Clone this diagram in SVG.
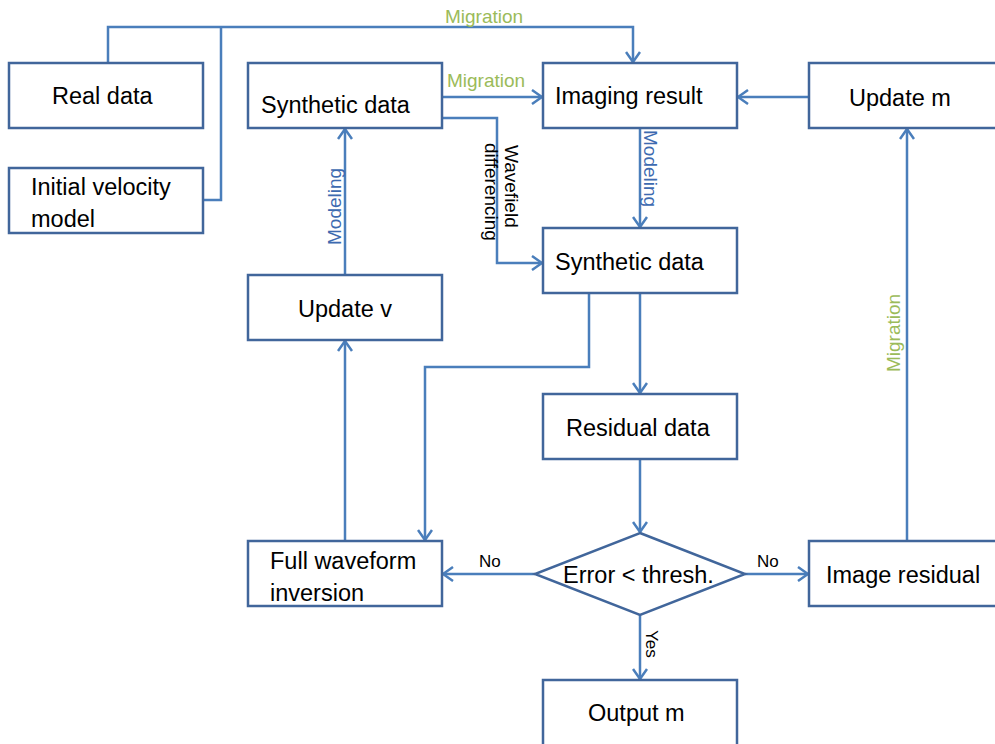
<svg xmlns="http://www.w3.org/2000/svg" width="995" height="744" viewBox="0 0 995 744">
<style>
.box{fill:#fff;stroke:#41669b;stroke-width:2.5}
.t{font-family:"Liberation Sans",Arial,sans-serif;font-size:23.5px;fill:#000}
.c{fill:none;stroke:#4a7ebb;stroke-width:2.5}
.g{font-family:"Liberation Sans",Arial,sans-serif;font-size:19px;fill:#9bbb59}
.b{font-family:"Liberation Sans",Arial,sans-serif;font-size:19px;fill:#3d6ab0}
.k{font-family:"Liberation Sans",Arial,sans-serif;font-size:19px;fill:#000}
.s{font-family:"Liberation Sans",Arial,sans-serif;font-size:17px;fill:#000}
</style>
<defs>
<marker id="a" viewBox="0 0 12 16" refX="11" refY="8" markerWidth="12" markerHeight="16" markerUnits="userSpaceOnUse" orient="auto">
<path d="M1,1 L11,8 L1,15" fill="none" stroke="#4a7ebb" stroke-width="2.5"/>
</marker>
</defs>
<rect width="995" height="744" fill="#fff"/>
<g id="connectors">
<path class="c" d="M108,63 V27 H633 V62" marker-end="url(#a)"/>
<path class="c" d="M203,200 H221 V27"/>
<path class="c" d="M442,97 H542" marker-end="url(#a)"/>
<path class="c" d="M442,118 H497 V263 H542" marker-end="url(#a)"/>
<path class="c" d="M809,97 H738" marker-end="url(#a)"/>
<path class="c" d="M640,128 V227" marker-end="url(#a)"/>
<path class="c" d="M345,275 V129" marker-end="url(#a)"/>
<path class="c" d="M640,293 V393" marker-end="url(#a)"/>
<path class="c" d="M589,293 V367 H425 V540" marker-end="url(#a)"/>
<path class="c" d="M640,459 V532" marker-end="url(#a)"/>
<path class="c" d="M535,574 H443" marker-end="url(#a)"/>
<path class="c" d="M745,574 H808" marker-end="url(#a)"/>
<path class="c" d="M640,615 V679" marker-end="url(#a)"/>
<path class="c" d="M345,541 V341" marker-end="url(#a)"/>
<path class="c" d="M907,541 V129" marker-end="url(#a)"/>
<text class="g" x="445" y="23">Migration</text>
<text class="g" x="447" y="87">Migration</text>
<text class="k" transform="translate(505,145) rotate(90)">Wavefield</text>
<text class="k" transform="translate(485,143) rotate(90)">differencing</text>
<text class="b" transform="translate(644,130) rotate(90)">Modeling</text>
<text class="b" transform="translate(341,245) rotate(-90)">Modeling</text>
<text class="g" transform="translate(900,372) rotate(-90)">Migration</text>
<text class="s" x="479" y="567">No</text>
<text class="s" x="757" y="567">No</text>
<text class="s" transform="translate(646,630) rotate(90)">Yes</text>
</g>
<g id="real-data"><rect class="box" x="9" y="63" width="194" height="65"/><text class="t" x="52" y="104">Real data</text></g>
<g id="initial-velocity"><rect class="box" x="9" y="168" width="194" height="65"/><text class="t" x="31" y="195">Initial velocity</text><text class="t" x="31" y="227">model</text></g>
<g id="synthetic-data-top"><rect class="box" x="248" y="63" width="194" height="65"/><text class="t" x="261" y="113">Synthetic data</text></g>
<g id="imaging-result"><rect class="box" x="543" y="63" width="194" height="65"/><text class="t" x="555" y="104">Imaging result</text></g>
<g id="update-m"><rect class="box" x="809" y="63" width="194" height="65"/><text class="t" x="849" y="106">Update m</text></g>
<g id="synthetic-data-mid"><rect class="box" x="543" y="228" width="194" height="65"/><text class="t" x="555" y="270">Synthetic data</text></g>
<g id="update-v"><rect class="box" x="248" y="275" width="194" height="65"/><text class="t" x="298" y="317">Update v</text></g>
<g id="residual-data"><rect class="box" x="543" y="394" width="194" height="65"/><text class="t" x="566" y="436">Residual data</text></g>
<g id="fwi"><rect class="box" x="248" y="541" width="194" height="65"/><text class="t" x="270" y="569">Full waveform</text><text class="t" x="270" y="601">inversion</text></g>
<g id="decision"><path class="box" d="M640,533 L745,574 L640,615 L535,574 Z"/><text class="t" x="563" y="583">Error &lt; thresh.</text></g>
<g id="image-residual"><rect class="box" x="809" y="541" width="194" height="65"/><text class="t" x="826" y="583">Image residual</text></g>
<g id="output-m"><rect class="box" x="543" y="680" width="194" height="70"/><text class="t" x="588" y="721">Output m</text></g>
</svg>
